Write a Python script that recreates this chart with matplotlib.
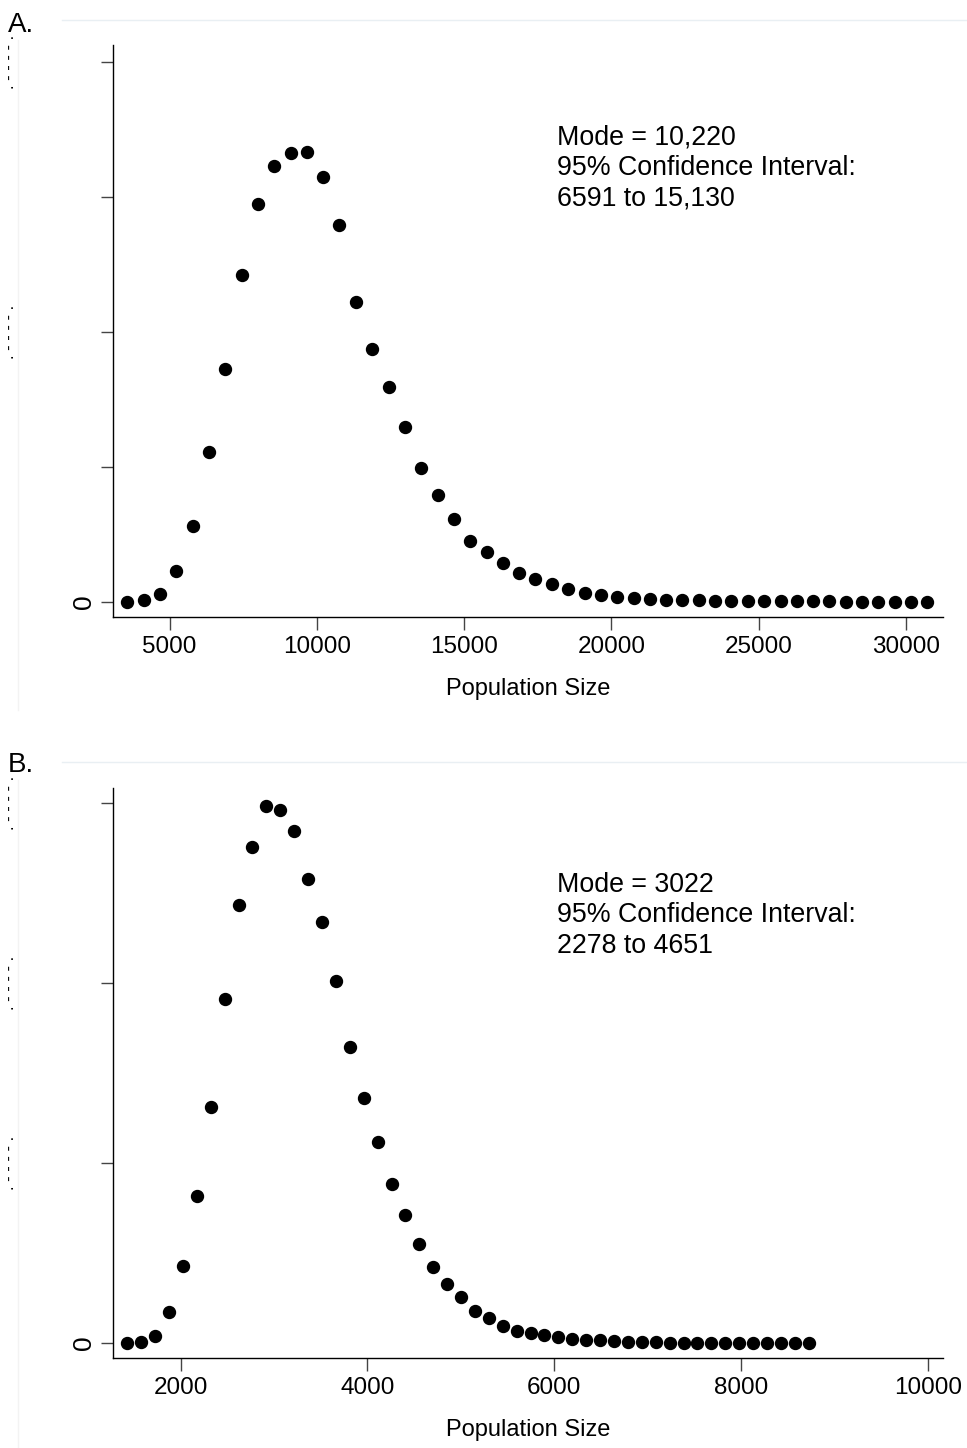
import matplotlib
matplotlib.use('Agg')
import matplotlib.pyplot as plt
import matplotlib.transforms as mtransforms
from matplotlib.lines import Line2D

plt.rcParams['font.family'] = ['Liberation Sans', 'DejaVu Sans']

# Panel A: posterior density of population size (density in 1e-6 per person)
pop_a = [3570, 4120, 4680, 5230, 5790, 6340, 6890, 7450, 8000, 8560,
         9110, 9670, 10220, 10770, 11330, 11880, 12440, 12990, 13550, 14100,
         14650, 15210, 15760, 16320, 16870, 17420, 17980, 18530, 19090, 19640,
         20200, 20750, 21300, 21860, 22410, 22970, 23520, 24070, 24630, 25180,
         25740, 26290, 26840, 27400, 27950, 28510, 29060, 29620, 30170, 30720]
dens_a = [0.0, 0.6, 2.8, 11.4, 28.0, 55.5, 86.4, 121.2, 147.3, 161.5,
          166.3, 166.7, 157.6, 139.8, 111.3, 93.8, 79.5, 64.9, 49.5, 39.7,
          30.7, 22.5, 18.3, 14.3, 10.6, 8.3, 6.7, 4.7, 3.2, 2.5,
          1.9, 1.4, 1.0, 0.8, 0.6, 0.5, 0.4, 0.3, 0.25, 0.2,
          0.15, 0.15, 0.1, 0.1, 0.05, 0.05, 0.05, 0.05, 0.0, 0.0]

# Panel B
pop_b = [1430, 1579, 1728, 1876, 2025, 2174, 2323, 2472, 2620, 2769,
         2918, 3067, 3216, 3364, 3513, 3662, 3811, 3960, 4108, 4257,
         4406, 4555, 4704, 4852, 5001, 5150, 5299, 5448, 5596, 5745,
         5894, 6043, 6192, 6340, 6489, 6638, 6787, 6936, 7084, 7233,
         7382, 7531, 7680, 7828, 7977, 8126, 8275, 8424, 8572, 8721]
dens_b = [0.0, 0.8, 7.8, 34.4, 85.8, 163.2, 261.8, 382.2, 486.2, 550.8,
          596.8, 592.6, 568.8, 515.6, 467.6, 401.8, 329.4, 272.6, 223.0, 176.8,
          142.0, 109.6, 84.8, 65.2, 51.2, 35.6, 27.4, 19.2, 13.4, 11.2,
          8.6, 6.6, 4.4, 3.0, 3.0, 1.8, 1.4, 1.4, 0.8, 0.4,
          0.2, 0.2, 0.2, 0.2, 0.2, 0.0, 0.0, 0.0, 0.0, 0.0]

xticks_a = [5000, 10000, 15000, 20000, 25000, 30000]
yticks_a = [0, 50, 100, 150, 200]
xticks_b = [2000, 4000, 6000, 8000, 10000]
yticks_b = [0, 200, 400, 600]

notes_a = "Mode = 10,220\n95% Confidence Interval:\n6591 to 15,130"
notes_b = "Mode = 3022\n95% Confidence Interval:\n2278 to 4651"

W, H = 967, 1448
fig = plt.figure(figsize=(W / 100, H / 100), dpi=100)


def px_axes(left, top, right, bottom):
    return fig.add_axes([left / W, 1 - bottom / H, (right - left) / W, (bottom - top) / H])


def panel(ax, x, y, xlim, ylim, xticks, yticks, labelled, note, letter, letter_y, rule_y):
    ax.plot(x, y, 'o', color='black', markersize=8.6, clip_on=False)
    ax.set_xlim(*xlim)
    ax.set_ylim(*ylim)
    for side in ['top', 'right']:
        ax.spines[side].set_visible(False)
    for side in ['left', 'bottom']:
        ax.spines[side].set_linewidth(1.0)
    ax.set_xticks(xticks)
    ax.set_xticklabels([str(t) for t in xticks], fontsize=17.5)
    ax.set_yticks(yticks)
    ax.set_yticklabels(['0'] + [''] * (len(yticks) - 1), fontsize=19, rotation=90, va='center')
    ax.tick_params(axis='both', direction='out', length=9, width=1.0, color='#444444', pad=5)
    ax.tick_params(axis='y', pad=3)
    ax.set_xlabel('Population Size', fontsize=17, labelpad=14)

    # long vertical tick labels that run off the left edge
    trans = mtransforms.blended_transform_factory(fig.transFigure, ax.transData)
    for t in labelled:
        fig.text(10 / W, t, '. - - - - .', transform=trans, rotation=90,
                 fontsize=12, color='black', ha='center', va='center')

    ax.text(0.535, note[1], note[0], transform=ax.transAxes, fontsize=19.3,
            ha='left', va='center', linespacing=1.22)
    fig.text(8 / W, 1 - letter_y / H, letter, fontsize=20, ha='left', va='center')
    fig.add_artist(Line2D([62 / W, 1.0], [1 - rule_y / H] * 2, color='#e9eff3', lw=1.0))


ax_a = px_axes(113, 45, 943, 617)
panel(ax_a, pop_a, dens_a, (3082, 31255), (-5.67, 206.4), xticks_a, yticks_a,
      [100, 200], (notes_a, 0.785), 'A.', 25, 20)

ax_b = px_axes(113, 788, 943, 1358)
panel(ax_b, pop_b, dens_b, (1277, 10158), (-16.7, 616.7), xticks_b, yticks_b,
      [200, 400, 600], (notes_b, 0.777), 'B.', 765, 762)

# faint left frame lines
fig.add_artist(Line2D([18 / W] * 2, [1 - 40 / H, 1 - 710 / H], color='#f3f3f3', lw=1.0))
fig.add_artist(Line2D([18 / W] * 2, [1 - 780 / H, 0], color='#f3f3f3', lw=1.0))

fig.savefig('out.png', dpi=100)
